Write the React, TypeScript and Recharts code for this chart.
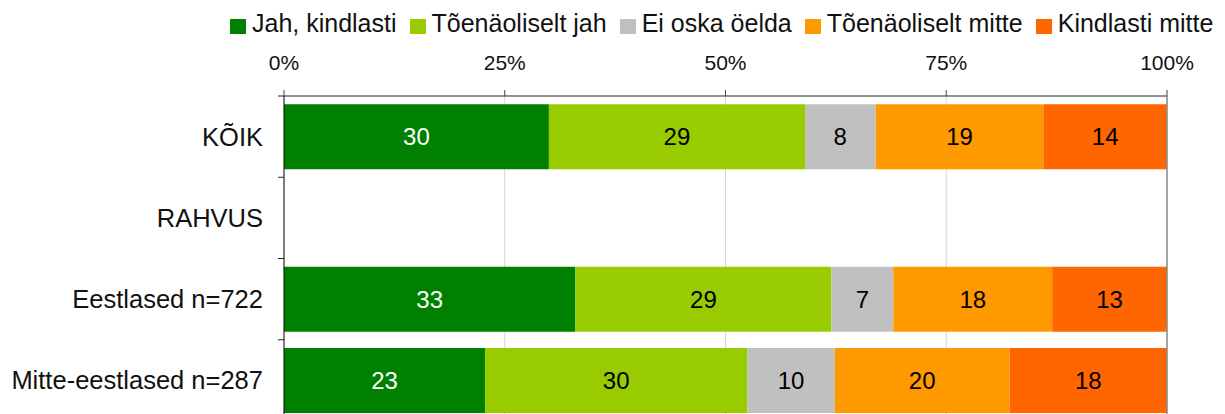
import React from 'react';
import {
  BarChart,
  Bar,
  XAxis,
  YAxis,
  CartesianGrid,
  ReferenceLine,
  LabelList,
  Legend,
} from 'recharts';

const CATEGORIES = ['KÕIK', 'RAHVUS', 'Eestlased n=722', 'Mitte-eestlased n=287'];
const JAH_KINDLASTI = [30, null, 33, 23];
const TOENAOLISELT_JAH = [29, null, 29, 30];
const EI_OSKA_OELDA = [8, null, 7, 10];
const TOENAOLISELT_MITTE = [19, null, 18, 20];
const KINDLASTI_MITTE = [14, null, 13, 18];
const PERCENT_TICKS = [0, 0.25, 0.5, 0.75, 1];

const SERIES = [
  { key: 'jah', name: 'Jah, kindlasti', values: JAH_KINDLASTI, color: '#008000', text: '#ffffff' },
  { key: 'pigemJah', name: 'Tõenäoliselt jah', values: TOENAOLISELT_JAH, color: '#99cc00', text: '#000000' },
  { key: 'eiOska', name: 'Ei oska öelda', values: EI_OSKA_OELDA, color: '#c0c0c0', text: '#000000' },
  { key: 'pigemMitte', name: 'Tõenäoliselt mitte', values: TOENAOLISELT_MITTE, color: '#ff9900', text: '#000000' },
  { key: 'mitte', name: 'Kindlasti mitte', values: KINDLASTI_MITTE, color: '#ff6600', text: '#000000' },
];

const data = CATEGORIES.map((name, i) => {
  const row: Record<string, string | number | null> = { name };
  SERIES.forEach((s) => {
    row[s.key] = s.values[i];
  });
  return row;
});

const FONT = '"Liberation Sans", Arial, Helvetica, sans-serif';
const CHART_H = 421;
const AXIS_TOP = 96;

// category label plus a small tick at the top edge of each band (Excel style)
const CategoryTick = (props: any) => {
  const { x, y, payload } = props;
  const half = payload?.offset ?? (CHART_H - AXIS_TOP) / CATEGORIES.length / 2;
  return (
    <g>
      <line x1={x - 6} x2={x} y1={y - half} y2={y - half} stroke="#222" strokeWidth={1} />
      <text
        x={x - 21}
        y={y}
        dy="0.355em"
        textAnchor="end"
        fontSize={25.5}
        fontFamily={FONT}
        fill="#111"
      >
        {payload.value}
      </text>
    </g>
  );
};

const makeBarLabel = (color: string) => (props: any) => {
  const { x, y, width, height, value } = props;
  if (value === null || value === undefined || !width) return null;
  return (
    <text
      x={x + width / 2}
      y={y + height / 2}
      dy="0.355em"
      textAnchor="middle"
      fontSize={24}
      fontFamily={FONT}
      fill={color}
    >
      {value}
    </text>
  );
};

// legend drawn in series order (Recharts would sort it by name)
const LegendRow = () => (
  <div style={{ display: 'flex', alignItems: 'center', whiteSpace: 'nowrap', fontFamily: FONT, fontSize: 25, color: '#111' }}>
    {SERIES.map((s) => (
      <div key={s.key} style={{ display: 'flex', alignItems: 'center', marginRight: 13 }}>
        <span
          style={{
            display: 'inline-block',
            width: 16,
            height: 15,
            background: s.color,
            marginRight: 6,
            position: 'relative',
            top: 3,
          }}
        />
        <span>{s.name}</span>
      </div>
    ))}
  </div>
);

export default function App() {
  return (
    <div
      style={{
        position: 'absolute',
        left: 0,
        top: 0,
        width: 1225,
        height: 414,
        overflow: 'hidden',
        background: '#fff',
      }}
    >
      <BarChart
        width={1225}
        height={CHART_H}
        data={data}
        layout="vertical"
        stackOffset="expand"
        barCategoryGap="10%"
        margin={{ top: 0, right: 58, bottom: 0, left: 0 }}
      >
        <CartesianGrid horizontal={false} stroke="#d4d4d4" />
        <XAxis
          type="number"
          orientation="top"
          domain={[0, 1]}
          ticks={PERCENT_TICKS}
          tickFormatter={(v: number) => `${Math.round(v * 100)}%`}
          height={AXIS_TOP}
          tickSize={6}
          tickMargin={20}
          axisLine={{ stroke: '#222' }}
          tickLine={{ stroke: '#444' }}
          tick={{ fontSize: 21, fontFamily: FONT, fill: '#111' }}
        />
        <YAxis
          type="category"
          dataKey="name"
          width={284}
          tickSize={0}
          tickMargin={0}
          axisLine={{ stroke: '#111' }}
          tickLine={false}
          tick={<CategoryTick />}
          interval={0}
        />
        <Legend
          layout="horizontal"
          verticalAlign="middle"
          align="center"
          content={<LegendRow />}
          wrapperStyle={{ left: 230, top: 9, width: 995 }}
        />
        {SERIES.map((s) => (
          <Bar key={s.key} dataKey={s.key} name={s.name} stackId="a" fill={s.color} isAnimationActive={false}>
            <LabelList dataKey={s.key} content={makeBarLabel(s.text)} />
          </Bar>
        ))}
        <ReferenceLine x={1} stroke="#8c8c8c" strokeWidth={1.5} />
      </BarChart>
    </div>
  );
}
